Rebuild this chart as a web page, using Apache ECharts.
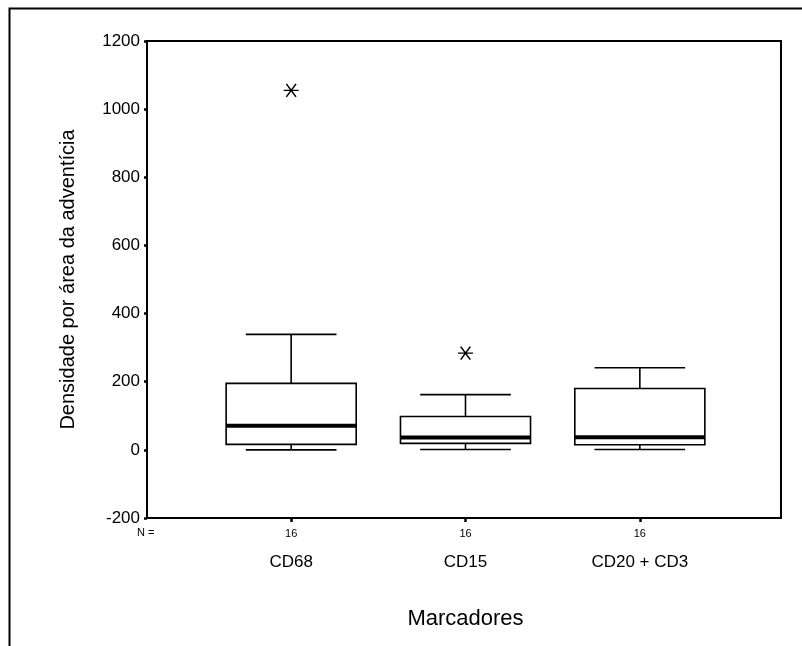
<!DOCTYPE html>
<html>
<head>
<meta charset="utf-8">
<script src="https://cdn.jsdelivr.net/npm/echarts@6/dist/echarts.min.js"></script>
<style>
html,body{margin:0;padding:0;background:#fff;}
#chart{width:802px;height:646px;}
</style>
</head>
<body>
<div id="chart"></div>
<script>
// ---- data ----
var categories = ['CD68', 'CD15', 'CD20 + CD3'];
var nValues = [16, 16, 16];
var whiskerLow = [0, 1, 1];
var q1 = [16, 19, 15];
var median = [71, 36, 37];
var q3 = [195, 98, 180];
var whiskerHigh = [339, 162, 241];
var outlierCat = [0, 1];
var outlierVal = [1055, 284];
var yTicks = { min: -200, max: 1200, interval: 200 };

var FONT = 'Liberation Sans, Arial, Helvetica, sans-serif';

var boxData = categories.map(function (c, i) {
  return [i, whiskerLow[i], q1[i], median[i], q3[i], whiskerHigh[i]];
});
var outlierData = outlierCat.map(function (c, i) { return [c, outlierVal[i]]; });

function renderBox(params, api) {
  var idx = api.value(0);
  var band = api.size([1, 0])[0];
  var bh = band * 0.373, ch = band * 0.26;
  var pLow = api.coord([idx, api.value(1)]);
  var pQ1 = api.coord([idx, api.value(2)]);
  var pMed = api.coord([idx, api.value(3)]);
  var pQ3 = api.coord([idx, api.value(4)]);
  var pHigh = api.coord([idx, api.value(5)]);
  var x = pMed[0];
  var ls = { stroke: '#000', lineWidth: 1.6, fill: null };
  return {
    type: 'group',
    children: [
      { type: 'line', shape: { x1: x, y1: pHigh[1], x2: x, y2: pQ3[1] }, style: ls },
      { type: 'line', shape: { x1: x - ch, y1: pHigh[1], x2: x + ch, y2: pHigh[1] }, style: ls },
      { type: 'line', shape: { x1: x, y1: pLow[1], x2: x, y2: pQ1[1] }, style: ls },
      { type: 'line', shape: { x1: x - ch, y1: pLow[1], x2: x + ch, y2: pLow[1] }, style: ls },
      { type: 'rect', shape: { x: x - bh, y: pQ3[1], width: 2 * bh, height: pQ1[1] - pQ3[1] },
        style: { stroke: '#000', lineWidth: 1.6, fill: '#fff' } },
      { type: 'line', shape: { x1: x - bh, y1: pMed[1], x2: x + bh, y2: pMed[1] },
        style: { stroke: '#000', lineWidth: 4 } }
    ]
  };
}

var chart = echarts.init(document.getElementById('chart'), null, { renderer: 'canvas' });
chart.setOption({
  animation: false,
  backgroundColor: '#fff',
  textStyle: { fontFamily: FONT, color: '#000' },
  graphic: [
    { type: 'rect', left: 7, top: 6, shape: { x: 0, y: 0, width: 1000, height: 1000 },
      style: { fill: null, stroke: '#000', lineWidth: 2 }, silent: true, z: 0 },
    { type: 'text', left: 137, top: 527,
      style: { text: 'N =', font: '11px ' + FONT, fill: '#000' } }
  ],
  grid: [
    { left: 147, top: 41, right: 21, bottom: 128, show: true, borderColor: '#000', borderWidth: 2 },
    { left: 204, top: 41, width: 523, bottom: 128 }
  ],
  xAxis: [
    { type: 'value', gridIndex: 0, min: 0, max: 1, show: false },
    { type: 'category', gridIndex: 1, data: categories, position: 'bottom',
      axisLine: { show: false, onZero: false },
      axisTick: { show: true, alignWithLabel: true, length: 4, lineStyle: { color: '#000', width: 2.5 } },
      axisLabel: {
        margin: 6, color: '#000', fontFamily: FONT,
        formatter: function (v, i) { return '{n|' + nValues[i] + '}\n{c|' + v + '}'; },
        rich: {
          n: { fontSize: 11, lineHeight: 20, fontFamily: FONT, color: '#000' },
          c: { fontSize: 17, lineHeight: 36, fontFamily: FONT, color: '#000' }
        }
      },
      name: 'Marcadores', nameLocation: 'middle', nameGap: 90,
      nameTextStyle: { fontSize: 22, fontFamily: FONT, color: '#000' }
    }
  ],
  yAxis: [
    { type: 'value', gridIndex: 0, min: yTicks.min, max: yTicks.max, interval: yTicks.interval,
      splitLine: { show: false },
      axisLine: { show: true, onZero: false, lineStyle: { color: '#000', width: 2 } },
      axisTick: { show: true, length: 3, lineStyle: { color: '#000', width: 2.5 } },
      axisLabel: { margin: 7, fontSize: 17, color: '#000', fontFamily: FONT,
        formatter: function (v) { return String(v); } },
      name: 'Densidade por área da adventícia', nameLocation: 'middle', nameGap: 69,
      nameTextStyle: { fontSize: 20, fontFamily: FONT, color: '#000' }
    },
    { type: 'value', gridIndex: 1, min: yTicks.min, max: yTicks.max, interval: yTicks.interval, show: false }
  ],
  series: [
    { type: 'custom', xAxisIndex: 1, yAxisIndex: 1, data: boxData, renderItem: renderBox,
      encode: { x: 0, y: [1, 2, 3, 4, 5] }, z: 2 },
    { type: 'scatter', xAxisIndex: 1, yAxisIndex: 1, data: outlierData,
      symbol: 'path://M0,7L14,7M2.5,1L11.5,13M11.5,1L2.5,13', symbolSize: [15, 13],
      itemStyle: { color: 'rgba(0,0,0,0)', borderColor: '#000', borderWidth: 1.4, opacity: 1 }, z: 3 }
  ]
});
</script>
</body>
</html>
